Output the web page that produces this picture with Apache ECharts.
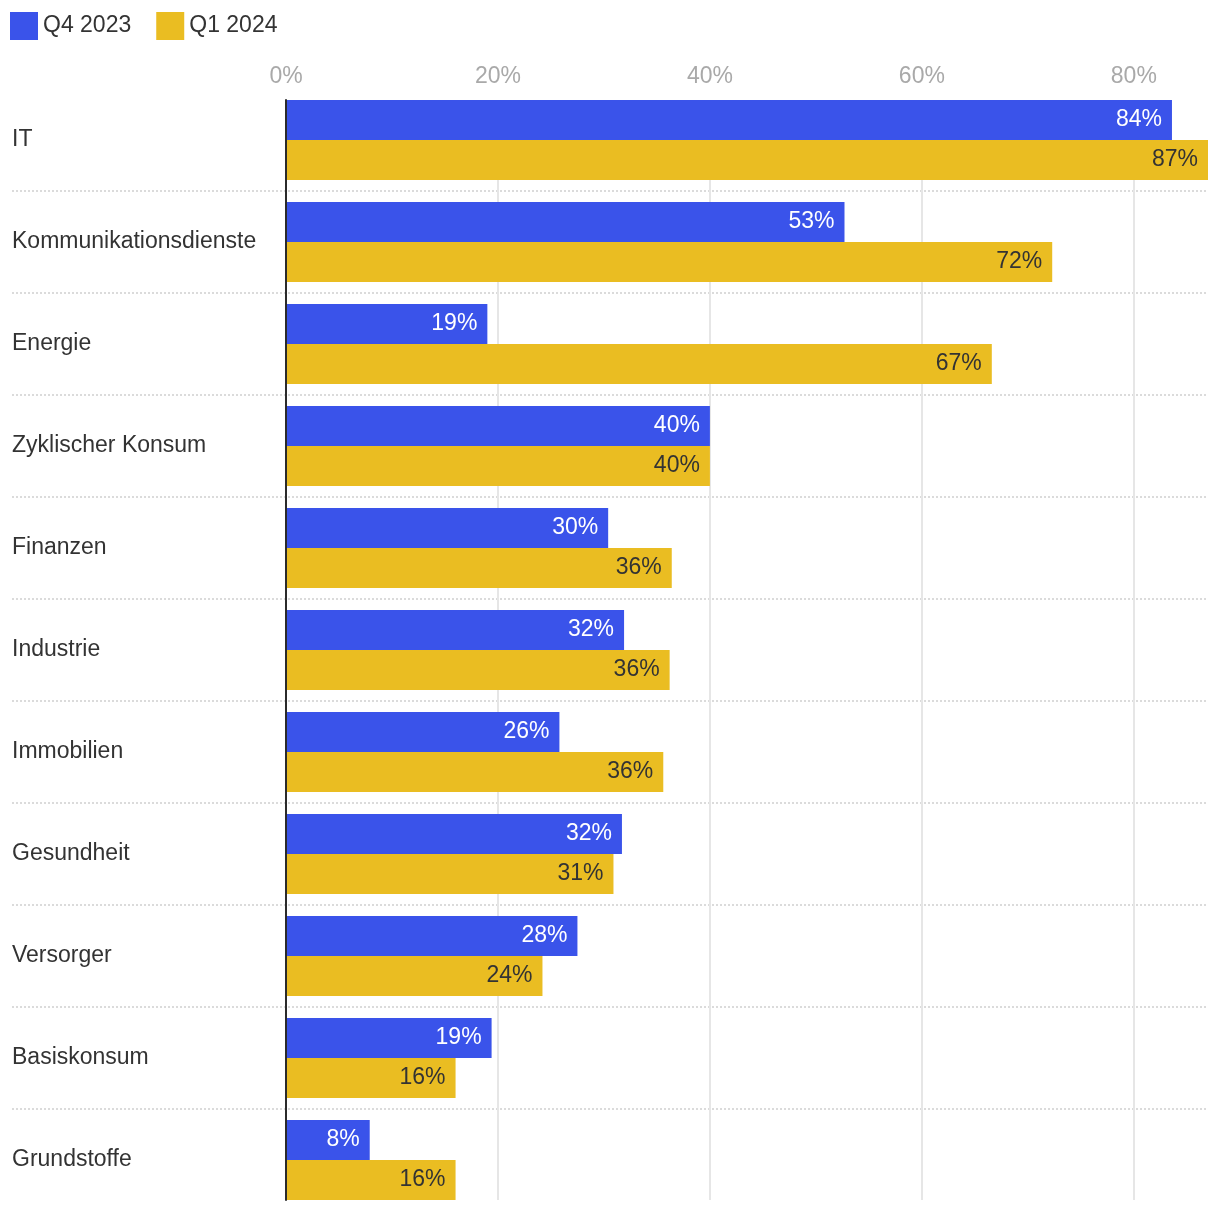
<!DOCTYPE html>
<html>
<head>
<meta charset="utf-8">
<script src="https://cdn.jsdelivr.net/npm/echarts@6/dist/echarts.min.js"></script>
<style>
html,body{margin:0;padding:0;background:#fff;}
#chart{width:1220px;height:1212px;}
</style>
</head>
<body>
<div id="chart"></div>
<script>
const categories = ["IT","Kommunikationsdienste","Energie","Zyklischer Konsum","Finanzen","Industrie","Immobilien","Gesundheit","Versorger","Basiskonsum","Grundstoffe"];
const seriesNames = ["Q4 2023","Q1 2024"];
const q4_2023 = [83.6, 52.7, 19.0, 40.0, 30.4, 31.9, 25.8, 31.7, 27.5, 19.4, 7.9];
const q1_2024 = [87.0, 72.3, 66.6, 40.0, 36.4, 36.2, 35.6, 30.9, 24.2, 16.0, 16.0];
const xMax = 87;
const xTickStep = 20;

const FONT = 'Helvetica, Arial, "Liberation Sans", sans-serif';
const BLUE = '#3a53ea';
const YELLOW = '#eabd22';
const FS = 23;

const chart = echarts.init(document.getElementById('chart'), null, {renderer:'canvas'});
chart.setOption({
  animation: false,
  textStyle: {fontFamily: FONT},
  legend: {
    left: 10, top: 12, padding: 0, itemWidth: 28, itemHeight: 28, itemGap: 25, icon: 'rect',
    textStyle: {fontSize: FS, color: '#333', fontFamily: FONT},
    data: seriesNames
  },
  grid: [
    {left: 286, right: 12, top: 89, bottom: 1},
    {left: 12, right: 12, top: 89, bottom: 1},
    {left: 286, right: 12, top: 100, bottom: 12}
  ],
  xAxis: [
    {gridIndex: 0, type: 'value', min: 0, max: xMax, show: false},
    {gridIndex: 1, type: 'value', min: 0, max: xMax, show: false},
    {gridIndex: 2, type: 'value', min: 0, max: xMax, interval: xTickStep, position: 'top',
     axisLine: {show: false}, axisTick: {show: false},
     axisLabel: {fontSize: FS, color: '#a9a9a9', margin: 12, fontFamily: FONT,
       formatter: v => (v % xTickStep === 0 ? v + '%' : '')},
     splitLine: {show: true, showMinLine: false, showMaxLine: false, lineStyle: {color: '#e6e6e6', width: 2}}}
  ],
  yAxis: [
    {gridIndex: 0, type: 'category', data: categories, inverse: true,
     axisLine: {show: false}, axisTick: {show: false},
     axisLabel: {align: 'left', margin: 274, fontSize: FS, color: '#333', fontFamily: FONT, padding: [0,0,8,0]},
     splitLine: {show: false}},
    {gridIndex: 1, type: 'category', data: categories, inverse: true,
     axisLine: {show: false}, axisTick: {show: false}, axisLabel: {show: false},
     splitLine: {show: true, showMinLine: false, showMaxLine: false, lineStyle: {color: '#cfcfcf', width: 1.5, type: [2, 2]}}},
    {gridIndex: 2, type: 'category', data: categories, inverse: true, z: 5,
     axisLine: {show: true, lineStyle: {color: '#2b2b2b', width: 2}}, axisTick: {show: false}, axisLabel: {show: false},
     splitLine: {show: false}}
  ],
  series: [
    {name: seriesNames[0], type: 'bar', xAxisIndex: 0, yAxisIndex: 0, data: q4_2023,
     barGap: '0%', barCategoryGap: '21.6%',
     itemStyle: {color: BLUE},
     label: {show: true, position: 'insideRight', distance: 10, color: '#fff', fontSize: FS, fontFamily: FONT,
       formatter: p => Math.round(p.value) + '%'}},
    {name: seriesNames[1], type: 'bar', xAxisIndex: 0, yAxisIndex: 0, data: q1_2024,
     barGap: '0%', barCategoryGap: '21.6%',
     itemStyle: {color: YELLOW},
     label: {show: true, position: 'insideRight', distance: 10, color: '#333', fontSize: FS, fontFamily: FONT,
       formatter: p => Math.round(p.value) + '%'}}
  ]
});
</script>
</body>
</html>
